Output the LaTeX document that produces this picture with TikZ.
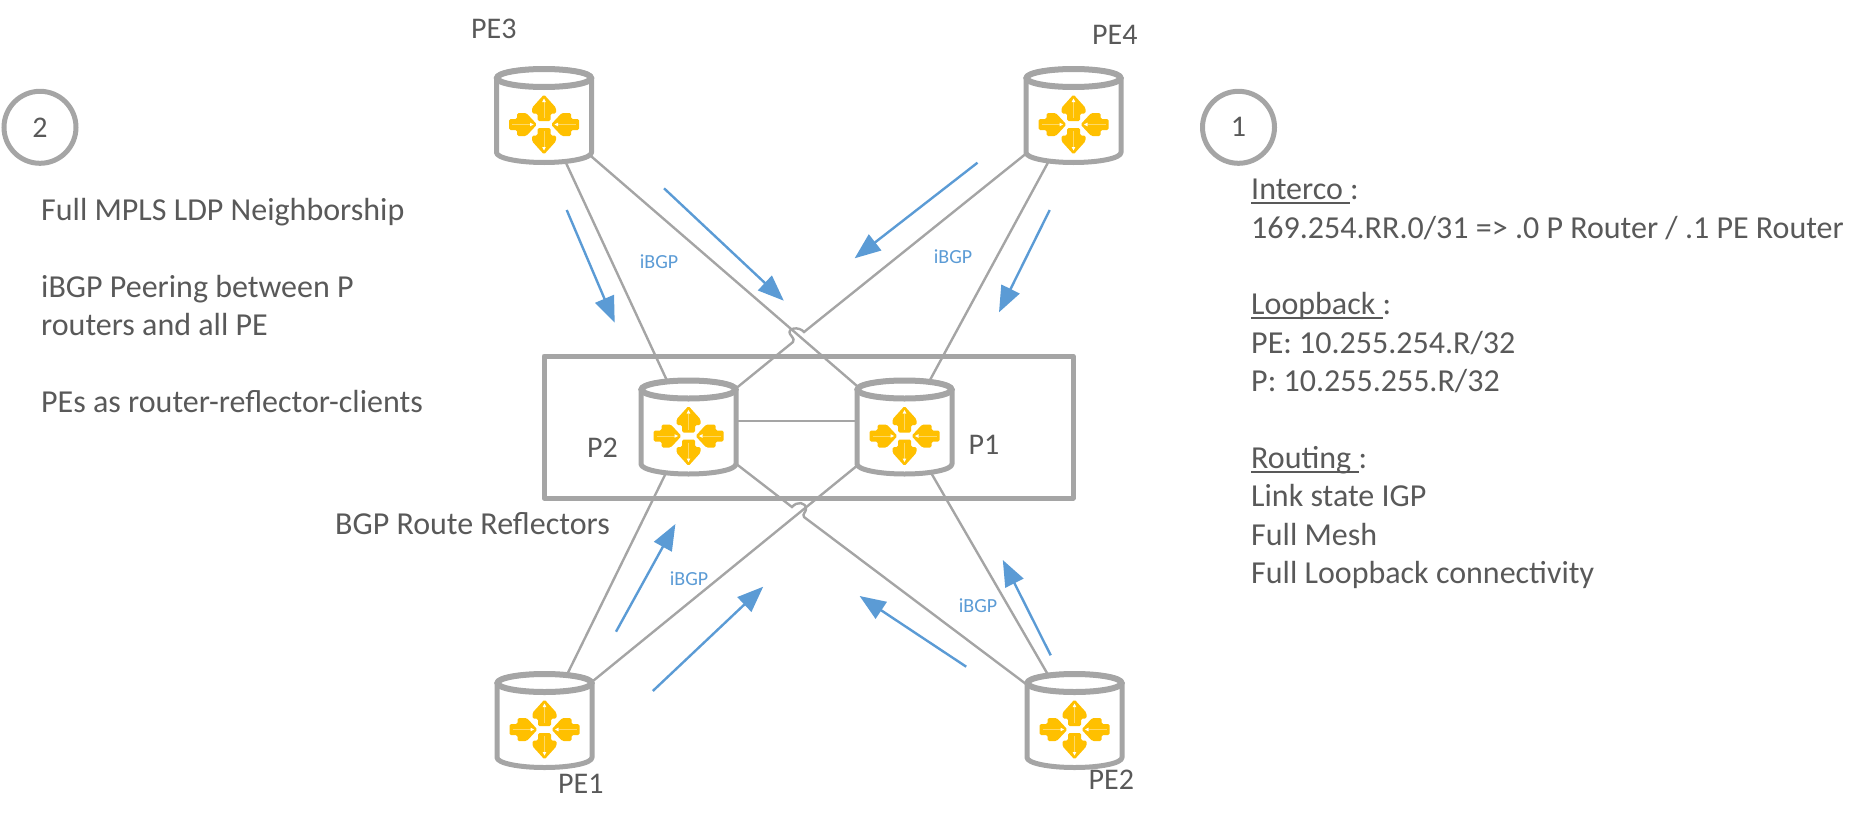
\documentclass[tikz,border=0pt]{standalone}
\usepackage{fontspec}
\setmainfont{Carlito}
\usetikzlibrary{arrows.meta}
\definecolor{boxgrey}{HTML}{A5A5A5}
\definecolor{txtgrey}{HTML}{595959}
\definecolor{flowblue}{HTML}{5B9BD5}
\definecolor{iconyellow}{HTML}{FFC000}
\definecolor{iconpale}{HTML}{FFD966}
\newlength{\ulwidth}
\newcommand{\ulword}[1]{\settowidth{\ulwidth}{#1}\rlap{#1}\raisebox{-4pt}{\rule{\ulwidth}{2pt}}}
\tikzset{
        router/.style={shape=rectangle,minimum width=95pt,minimum height=94pt,inner sep=0pt,outer sep=0pt},
        badge/.style={shape=circle,draw=boxgrey,line width=5pt,minimum size=72pt,inner sep=0pt,text=txtgrey,font=\fontsize{30}{38.4}\selectfont},
        tag/.style={inner sep=0pt,anchor=base west,text=txtgrey,font=\fontsize{30}{38.4}\selectfont},
        notes/.style={inner sep=0pt,anchor=north west,align=left,text=txtgrey,font=\fontsize{32}{38.4}\selectfont},
        ibgp/.style={inner sep=0pt,text=flowblue,font=\fontsize{20}{24}\selectfont},
        link/.style={draw=boxgrey,line width=2.4pt},
        flow/.style={draw=flowblue,line width=2.4pt,-{Triangle[length=26pt,width=20pt]}},
        pics/routerbody/.style={code={
                \draw[boxgrey,fill=white,line width=5pt,line join=round] (-47.5,-37.5) -- (-47.5,37) arc (180:360:47.5pt and 10pt) -- (47.5,-37.5) arc (0:180:47.5pt and 9pt) -- cycle;
                \draw[boxgrey,line width=6pt] (0,-37.5) ellipse (47pt and 9pt);
                \foreach \px/\py/\vx/\vy in {0/12.5/0/-1,0/5.5/0/1}{
                        \begin{scope}[shift={(\px,\py)},x={(\vy pt,\vx pt)},y={(\vx pt,\vy pt)}]
                                \fill[iconyellow,rounded corners=1.5pt] (-6.5,0) -- (6.5,0) -- (6.5,7.5) -- (12,7.5) -- (12,13.2) -- (0,26.5) -- (-12,13.2) -- (-12,7.5) -- (-6.5,7.5) -- cycle;
                                \draw[iconpale,line width=0.5pt] (0,3) -- (0,19);
                                \fill[white] (0,22.5) -- (-1.8,19) -- (1.8,19) -- cycle;
                        \end{scope}
                }
                \foreach \px/\py/\vx/\vy in {-35/9/1/0,35/9/-1/0}{
                        \begin{scope}[shift={(\px,\py)},x={(\vy pt,\vx pt)},y={(\vx pt,\vy pt)}]
                                \fill[iconyellow,rounded corners=1.5pt] (-5.5,0) -- (5.5,0) -- (5.5,8) -- (11.5,8) -- (11.5,17.3) -- (0,28) -- (-11.5,17.3) -- (-11.5,8) -- (-5.5,8) -- cycle;
                                \draw[iconpale,line width=0.5pt] (0,3) -- (0,21);
                                \fill[white] (0,24.5) -- (-1.8,21) -- (1.8,21) -- cycle;
                        \end{scope}
                }
        }}
}
\begin{document}
\begin{tikzpicture}[x=1pt,y=-1pt]
        \useasboundingbox (0,0) rectangle (1867,819);
        \node[shape=rectangle,draw=boxgrey,line width=5pt,line join=round,minimum width=529pt,minimum height=142pt] (reflectors) at (808.5,427) {};

        \node[router] (PE3) at (544,115.5) {};
        \node[router] (PE4) at (1073.5,115.5) {};
        \node[router] (P2) at (688.5,427) {};
        \node[router] (P1) at (904.5,427) {};
        \node[router] (PE1) at (544.5,720.5) {};
        \node[router] (PE2) at (1074.5,720.5) {};

        \coordinate (hoptopa) at (804,332);
        \coordinate (hoptopb) at (793,342);
        \coordinate (hopbota) at (792,507);
        \coordinate (hopbotb) at (804,517);
        \path[link]
        (PE3.center) edge (P2.center)
        (PE3.center) edge (P1.center)
        (PE4.center) edge (P1.center)
        (P1.center) edge (PE2.center)
        (P2.center) edge (PE1.center)
        (P1.center) edge (PE1.center)
        ([yshift=6pt]P2.center) edge ([yshift=6pt]P1.center)
        ;
        \draw[link] (PE4.center) -- (hoptopa) .. controls (799,326) and (787,328) .. (790,334) .. controls (791,337) and (795,338) .. (hoptopb) -- (P2.center);
        \draw[link] (P2.center) -- (hopbota) .. controls (797,501) and (806,502) .. (806,509) .. controls (806,512) and (802,514) .. (hopbotb) -- (PE2.center);

        \pic at (PE3) {routerbody};
        \pic at (PE4) {routerbody};
        \pic at (P2) {routerbody};
        \pic at (P1) {routerbody};
        \pic at (PE1) {routerbody};
        \pic at (PE2) {routerbody};

        \node[tag] (PE3label) at (471,38) {PE3};
        \node[tag] (PE4label) at (1092,44.5) {PE4};
        \node[tag] (P2label) at (587,457) {P2};
        \node[tag] (P1label) at (968.5,454) {P1};
        \node[tag] (PE1label) at (558,793) {PE1};
        \node[tag] (PE2label) at (1088.5,789) {PE2};
        \node[tag,font=\fontsize{32}{38.4}\selectfont] (rrlabel) at (335,534) {BGP Route Reflectors};

        \node[badge] (two) at (40,127.3) {2};
        \node[badge] (one) at (1238.5,127.3) {1};

        \node[notes] (leftnotes) at (41,198) {Full MPLS LDP Neighborship\\[38.4pt]iBGP Peering between P\\routers and all PE\\[38.4pt]PEs as router-reflector-clients};
        \node[notes] (rightnotes) at (1251,179) {\ulword{Interco\ }:\\169.254.RR.0/31 => .0 P Router / .1 PE Router\\[38.4pt]\ulword{Loopback\ }:\\PE: 10.255.254.R/32\\P: 10.255.255.R/32\\[38.4pt]\ulword{Routing\ }:\\Link state IGP\\Full Mesh\\Full Loopback connectivity};

        \coordinate (flow1s) at (566.7,210);
        \coordinate (flow1e) at (614.7,322.7);
        \coordinate (flow2s) at (664,188.3);
        \coordinate (flow2e) at (783.8,300.7);
        \coordinate (flow3s) at (977.5,162.7);
        \coordinate (flow3e) at (854.6,258.3);
        \coordinate (flow4s) at (1049.7,210);
        \coordinate (flow4e) at (999,312.3);
        \coordinate (flow5s) at (616,631.7);
        \coordinate (flow5e) at (675.4,524);
        \coordinate (flow6s) at (652.8,691);
        \coordinate (flow6e) at (763.2,586.7);
        \coordinate (flow7s) at (966.2,666.7);
        \coordinate (flow7e) at (859.6,596);
        \coordinate (flow8s) at (1050.7,655.3);
        \coordinate (flow8e) at (1002.8,560);
        \foreach \i in {1,...,8}{
                \draw[flow] (flow\i s) -- (flow\i e);
        }

        \node[ibgp] (ibgp3) at (659,262) {iBGP};
        \node[ibgp] (ibgp4) at (953,257) {iBGP};
        \node[ibgp] (ibgp1) at (689,579) {iBGP};
        \node[ibgp] (ibgp2) at (978,606) {iBGP};
\end{tikzpicture}
\end{document}
